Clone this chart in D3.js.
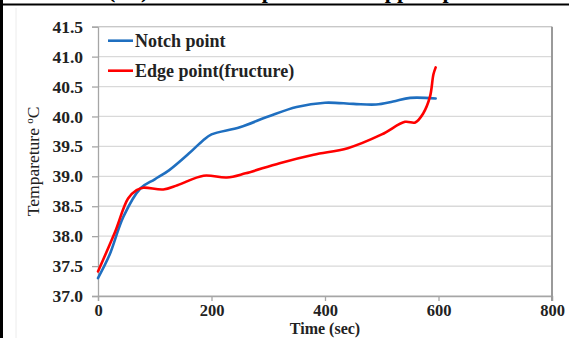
<!DOCTYPE html>
<html>
<head>
<meta charset="utf-8">
<script src="https://cdn.jsdelivr.net/npm/d3@7"></script>
<style>
  html, body { margin: 0; padding: 0; background: #fff; }
  svg { display: block; }
  text { font-family: "Liberation Serif", "Times New Roman", serif; }
</style>
</head>
<body>
<svg id="chart" width="569" height="338"></svg>
<script>
// Temperature readings (°C) over time (s)
const notchTime = [0, 20, 45, 75, 100, 125, 160, 185, 200, 250, 300, 350, 400, 450, 490, 520, 550, 595];
const notchTemp = [37.30, 37.68, 38.33, 38.80, 38.95, 39.10, 39.38, 39.60, 39.70, 39.82, 40.00, 40.16, 40.23, 40.21, 40.20, 40.25, 40.31, 40.30];

const edgeTime = [0, 30, 53, 68, 80, 115, 140, 186, 227, 260, 320, 380, 440, 500, 541, 559, 573, 585, 591, 595];
const edgeTemp = [37.41, 38.07, 38.63, 38.77, 38.81, 38.78, 38.85, 39.01, 38.98, 39.05, 39.22, 39.36, 39.47, 39.70, 39.91, 39.90, 40.05, 40.33, 40.70, 40.82];

const seriesNames = ["Notch point", "Edge point(fructure)"];
const seriesColors = ["#1f6fc0", "#ff0000"];

const xTicks = [0, 200, 400, 600, 800];
const yTicks = [37.0, 37.5, 38.0, 38.5, 39.0, 39.5, 40.0, 40.5, 41.0, 41.5];

const svg = d3.select("#chart");
const W = 569, H = 338;
const plot = { left: 98, right: 552, top: 26.7, bottom: 296 };

const x = d3.scaleLinear().domain([0, 800]).range([plot.left, plot.right]);
const y = d3.scaleLinear().domain([37, 41.5]).range([plot.bottom, plot.top]);

// Panel heading, mostly above the frame line
const heading = svg.append("text").attr("y", -2)
  .attr("font-size", 22).attr("font-weight", "bold").attr("fill", "#000");
heading.append("tspan").attr("x", 108).text("(III)");
heading.append("tspan").attr("x", 221).text("Temperature of upper specimen");

// Frame of the figure panel
svg.append("line").attr("x1", 0).attr("x2", W).attr("y1", 4.5).attr("y2", 4.5)
  .attr("stroke", "#000").attr("stroke-width", 2);
svg.append("line").attr("x1", 1.5).attr("x2", 1.5).attr("y1", 0).attr("y2", H)
  .attr("stroke", "#000").attr("stroke-width", 3);
svg.append("line").attr("x1", 16).attr("x2", 16).attr("y1", 8).attr("y2", H)
  .attr("stroke", "#ececec").attr("stroke-width", 1);

// Horizontal gridlines
svg.append("g").selectAll("line").data(yTicks).join("line")
  .attr("x1", plot.left).attr("x2", plot.right)
  .attr("y1", d => y(d)).attr("y2", d => y(d))
  .attr("stroke", "#d9d9d9").attr("stroke-width", 1.3);

// Axes
const yAxis = d3.axisLeft(y).tickValues(yTicks).tickSize(6).tickPadding(9)
  .tickFormat(d3.format(".1f"));
const xAxis = d3.axisBottom(x).tickValues(xTicks).tickSize(5).tickPadding(3)
  .tickFormat(d3.format("d"));

const gy = svg.append("g").attr("transform", `translate(${plot.left},0)`).call(yAxis);
const gx = svg.append("g").attr("transform", `translate(0,${plot.bottom})`).call(xAxis);
[gx, gy].forEach(g => {
  g.select(".domain").attr("stroke", "#a6a6a6").attr("stroke-width", 1.3);
  g.selectAll(".tick line").attr("stroke", "#a6a6a6").attr("stroke-width", 1.3);
  g.selectAll(".tick text")
    .attr("font-family", "'Liberation Serif', 'Times New Roman', serif")
    .attr("font-size", 17.5).attr("font-weight", "bold").attr("fill", "#222");
});
gx.selectAll(".tick text").attr("font-size", 16.5);

// Plot area border (top and right)
svg.append("line").attr("x1", plot.left).attr("x2", plot.right)
  .attr("y1", plot.top).attr("y2", plot.top)
  .attr("stroke", "#c8c8c8").attr("stroke-width", 1.3);
svg.append("line").attr("x1", plot.right).attr("x2", plot.right)
  .attr("y1", plot.top).attr("y2", plot.bottom + 5)
  .attr("stroke", "#9a9a9a").attr("stroke-width", 2);

// Series lines
const line = d3.line().curve(d3.curveCatmullRom.alpha(0.5))
  .x(d => x(d[0])).y(d => y(d[1]));
const series = [
  d3.zip(notchTime, notchTemp),
  d3.zip(edgeTime, edgeTemp)
];
svg.append("g").selectAll("path").data(series).join("path")
  .attr("d", line)
  .attr("fill", "none")
  .attr("stroke", (d, i) => seriesColors[i])
  .attr("stroke-width", 2.6)
  .attr("stroke-linejoin", "round")
  .attr("stroke-linecap", "round");

// Legend
const legend = svg.append("g");
const legendY = [40.7, 70.7];
seriesNames.forEach((name, i) => {
  legend.append("line").attr("x1", 108).attr("x2", 133)
    .attr("y1", legendY[i]).attr("y2", legendY[i])
    .attr("stroke", seriesColors[i]).attr("stroke-width", 2.6);
  legend.append("text").attr("x", 135).attr("y", legendY[i] + 6)
    .attr("font-size", 18).attr("font-weight", "bold").attr("fill", "#222")
    .text(name);
});

// Axis titles
svg.append("text").attr("x", (plot.left + plot.right) / 2).attr("y", 334)
  .attr("text-anchor", "middle").attr("font-size", 16).attr("font-weight", "bold")
  .attr("fill", "#222").text("Time (sec)");

const yTitle = svg.append("text")
  .attr("transform", `translate(39,${(plot.top + plot.bottom) / 2}) rotate(-90)`)
  .attr("text-anchor", "middle").attr("font-size", 17.5).attr("fill", "#222");
yTitle.append("tspan").text("Tempareture ");
yTitle.append("tspan").attr("font-size", 11).attr("dy", -6).text("o");
yTitle.append("tspan").attr("dy", 6).text("C");
</script>
</body>
</html>
